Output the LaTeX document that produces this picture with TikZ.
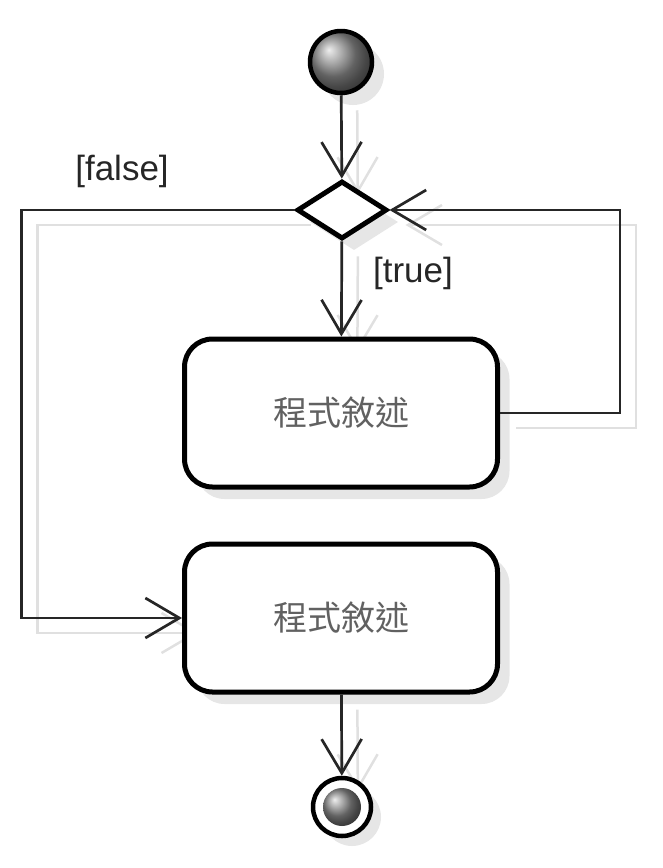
\documentclass[tikz,border=0pt]{standalone}
\usepackage{fontspec}
\setmainfont{Liberation Sans}
\newfontfamily\cjk{Noto Sans CJK TC}
\usetikzlibrary{shapes.geometric,shadows,arrows.meta,backgrounds}

\begin{document}
\begin{tikzpicture}[x=1pt, y=-1pt,
  box/.style={rectangle, draw=black, line width=5pt, minimum width=313pt, minimum height=148pt, rounded corners=28pt, fill=white, drop shadow={shadow xshift=12pt, shadow yshift=-12pt, opacity=0.2}, font=\cjk\fontsize{34}{38}\selectfont, text=black!62},
  flow/.style={draw=black!85, line width=2.7pt, -{Straight Barb[length=34pt, width=40pt]}},
  ghost/.style={draw=black!12, line width=2.5pt, -{Straight Barb[length=34pt, width=40pt]}, transform canvas={xshift=16pt, yshift=-15pt}},
  guard/.style={font=\fontsize{35}{40}\selectfont, text=black!85}]

\useasboundingbox (0,0) rectangle (662,868);

\node(start) [circle, draw=black, line width=4.5pt, minimum size=62pt, ball color=gray!90, drop shadow={shadow xshift=12pt, shadow yshift=-12pt, opacity=0.2}] at (341,62) {};
\node(dec) [diamond, draw=black, line width=5pt, minimum width=90pt, minimum height=58pt, inner sep=0pt, fill=white, drop shadow={shadow xshift=12pt, shadow yshift=-12pt, opacity=0.2}] at (342,210) {};
\node(1) [box] at (341,413) {程式敘述};
\node(2) [box] at (341,618) {程式敘述};
\node(stop) [circle, draw=black, line width=4.5pt, minimum size=58pt, fill=white, drop shadow={shadow xshift=10pt, shadow yshift=-10pt, opacity=0.2}] at (342,807) {};
\node(stopin) [circle, minimum size=38pt, ball color=gray!90] at (stop) {};

\node(false) [guard] at (122,171) {[false]};
\node(true) [guard] at (413,273) {[true]};

% shadows of the connectors
\begin{scope}[on background layer]
\draw[ghost] (start) -- (dec);
\draw[ghost] (dec) -- (1);
\draw[ghost] (1.east) -- ++(120,0) |- (dec.east);
\draw[ghost] (dec.west) -- ++(-273,0) |- (2.west);
\draw[ghost] (2) -- (stop);
\end{scope}

\draw[flow] (start) -- (dec);
\draw[flow] (dec) -- (1);
\draw[flow] (1.east) -- ++(120,0) |- (dec.east);
\draw[flow] (dec.west) -- ++(-273,0) |- (2.west);
\draw[flow] (2) -- (stop);

\end{tikzpicture}
\end{document}
